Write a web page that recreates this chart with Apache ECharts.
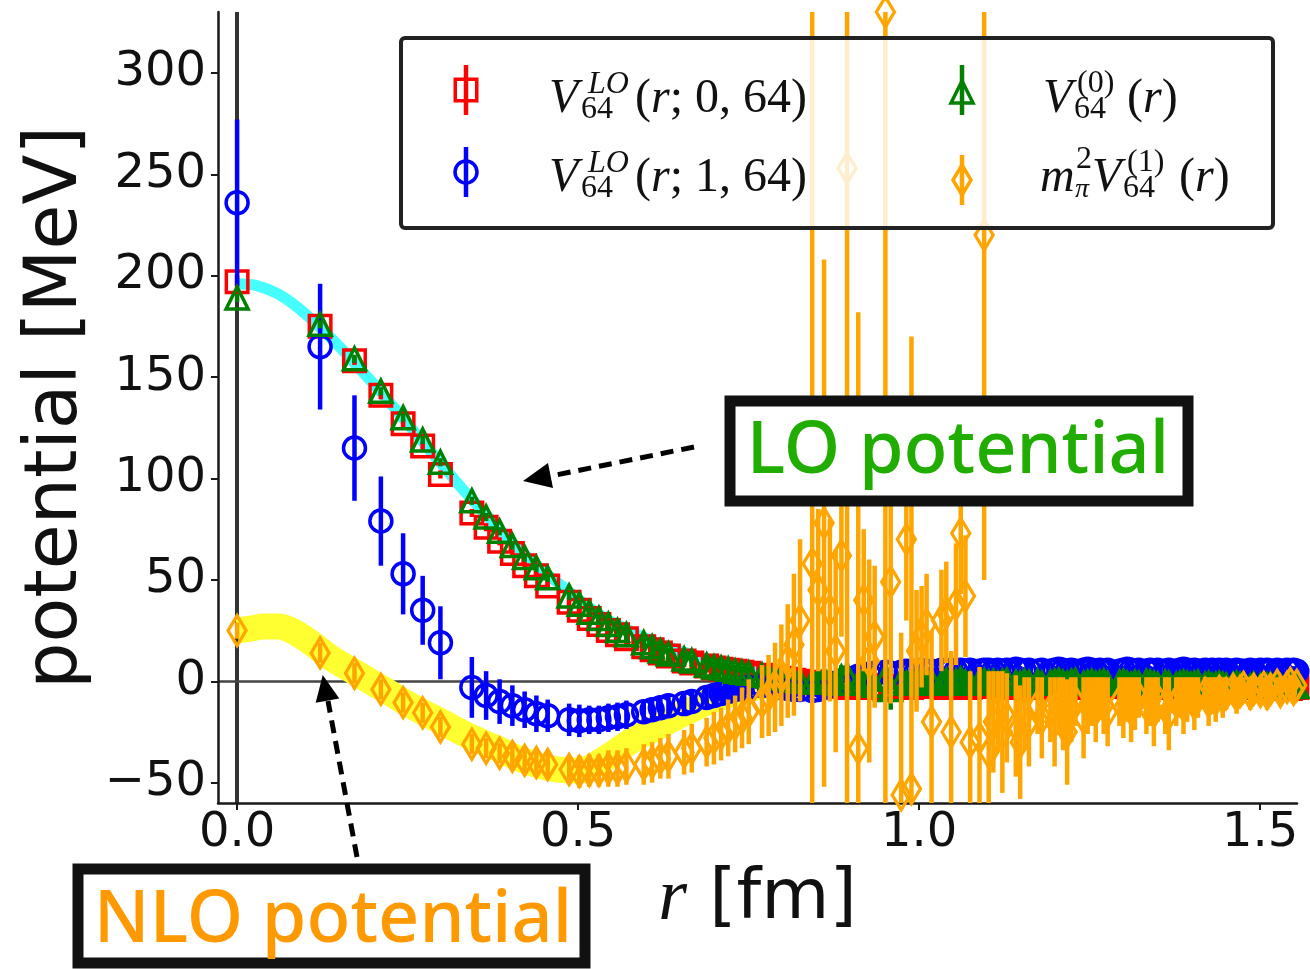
<!DOCTYPE html>
<html>
<head>
<meta charset="utf-8">
<script src="https://cdn.jsdelivr.net/npm/echarts@6/dist/echarts.min.js"></script>
<style>
html, body { margin: 0; padding: 0; background: #fff; }
#chart { width: 1310px; height: 969px; }
</style>
</head>
<body>
<div id="chart"></div>
<script>
// Separations r [fm] on the 64^4 lattice
const rFm = [
  0, 0.1217, 0.1721, 0.2108, 0.2434, 0.2721, 0.2981, 0.3442, 0.3651, 0.3849,
  0.4036, 0.4216, 0.4388, 0.4554, 0.4868, 0.5018, 0.5163, 0.5305, 0.5443, 0.5577,
  0.5708, 0.5962, 0.6085, 0.6206, 0.6324, 0.6554, 0.6666, 0.6884, 0.6991, 0.7096,
  0.7200, 0.7302, 0.7403, 0.7502, 0.7697, 0.7793, 0.7887, 0.7980, 0.8073, 0.8164,
  0.8254, 0.8432, 0.8519, 0.8606, 0.8691, 0.8776, 0.8860, 0.8943, 0.9107, 0.9188,
  0.9268, 0.9348, 0.9505, 0.9583, 0.9736, 0.9812, 0.9887, 0.9962, 1.0036, 1.0109,
  1.0182, 1.0327, 1.0398, 1.0469, 1.0540, 1.0610, 1.0679, 1.0748, 1.0885, 1.0953,
  1.1020, 1.1088, 1.1154, 1.1220, 1.1286, 1.1417, 1.1481, 1.1545, 1.1610, 1.1736,
  1.1799, 1.1924, 1.1986, 1.2048, 1.2109, 1.2170, 1.2231, 1.2291, 1.2411, 1.2471,
  1.2530, 1.2589, 1.2648, 1.2706, 1.2764, 1.2937, 1.2994, 1.3051, 1.3108, 1.3164,
  1.3220, 1.3332, 1.3387, 1.3442, 1.3497, 1.3607, 1.3661, 1.3769, 1.3823, 1.3876,
  1.3929, 1.3982, 1.4035, 1.4088, 1.4192, 1.4245, 1.4296, 1.4348, 1.4400, 1.4451,
  1.4502, 1.4604, 1.4654, 1.4705, 1.4755, 1.4855, 1.4905, 1.5004, 1.5053, 1.5102,
  1.5151, 1.5249, 1.5297, 1.5394, 1.5442, 1.5490, 1.5537
];

// V_64^LO(r; 0, 64) [MeV]
const vLO0 = [
  197, 175, 158, 141, 127, 116, 102, 83, 76, 69,
  63, 57, 52, 47, 39, 35, 31, 28, 25, 23,
  21, 17, 15.5, 14, 12.5, 10, 9, 7.5, 6.5, 6,
  5.5, 5, 4.5, 4, 3, 2.5, 2, 1.5, 1, 0.5,
  0, -0.5, -1, -1.5, -2, -2, -2.5, -3, -3, -2.5,
  -2, -3, -4, -3, -2.5, -2, -3, -2.5, -2, -1.5,
  -2, -2.5, -3, -2, -1.5, -2, -2.5, -3, -2, -1.5,
  -2, -2.5, -2, -3, -2.5, -2, -1.5, -2, -2.5, -2,
  -3, -2.5, -2, -1.5, -2, -2.5, -3, -2.5, -2, -1.5,
  -2, -2.5, -3, -2.5, -2, -2, -1.5, -2.5, -3, -2.5,
  -2, -1.5, -2, -2.5, -3, -2, -1.5, -2, -2.5, -3,
  -2.5, -2, -1.5, -2, -3, -2.5, -2, -1.5, -2, -3,
  -3.5, -2.5, -2, -2.5, -3, -2, -1.5, -2.5, -3, -3.5,
  -3, -2, -2.5, -3, -3.5, -2.5, -3
];
const eLO0 = [
  3, 2, 2, 2, 2, 2, 2, 2, 2, 2,
  2, 2, 2, 2, 2, 2, 2, 2, 2, 2,
  3, 3, 3, 3, 3, 3, 3, 3, 3, 3,
  3, 3, 3, 3, 3, 3, 3, 3, 3, 3,
  2, 2, 2, 2, 2, 3, 2, 3, 3, 2,
  3, 3, 3, 3, 2, 2, 3, 2, 2, 2,
  2, 3, 2, 2, 3, 2, 2, 3, 2, 2,
  2, 2, 3, 2, 2, 2, 3, 2, 2, 2,
  3, 2, 2, 2, 2, 3, 2, 2, 2, 2,
  2, 2, 3, 2, 2, 2, 2, 2, 3, 2,
  2, 2, 2, 3, 2, 2, 2, 2, 2, 3,
  2, 2, 2, 2, 3, 2, 2, 2, 2, 3,
  3, 2, 2, 2, 3, 2, 2, 2, 3, 3,
  3, 2, 2, 3, 3, 2, 3
];

// V_64^LO(r; 1, 64) [MeV]
const vLO1 = [
  236, 165, 115, 79, 53, 35, 19, -3, -7, -10,
  -12, -14, -16, -17, -19, -19.5, -19, -19, -18, -17.5,
  -16.5, -15, -14, -13, -12, -11, -10, -8, -7, -6,
  -5, -4, -3.5, -3, -2, -1.5, -2, -3, -3.5, -4,
  -4, -4.5, -4, -3, -2, -1, 0, 1.5, 2.5, 3,
  3.5, 4, 4.5, 4, 4.5, 5, 4.5, 5, 5.5, 5,
  5, 5.5, 5, 5.5, 5, 5.5, 5, 5.5, 5, 5.5,
  5.5, 5, 5.5, 5, 5.5, 6, 5.5, 5, 5.5, 5,
  5.5, 5, 5.5, 6, 5.5, 5, 5.5, 5, 5.5, 6,
  5.5, 5, 5.5, 5, 5.5, 5, 5.5, 6, 5.5, 5,
  5.5, 5, 5.5, 5, 5.5, 5, 5.5, 5, 5.5, 6,
  5.5, 5, 5.5, 5, 5.5, 5, 5.5, 5, 5.5, 5,
  5.5, 5, 5.5, 5, 5, 5.5, 5, 5.5, 5, 5.5,
  5, 5.5, 5, 5.5, 5, 5.5, 5
];
const eLO1 = [
  41, 31, 26, 22, 20, 17, 18, 15, 12, 11,
  10, 9, 9, 8, 8, 8, 7, 7, 7, 7,
  7, 6, 6, 6, 6, 5, 5, 5, 5, 4,
  4, 4, 4, 4, 3, 3, 3, 3, 3, 3,
  3, 3, 3, 3, 3, 3, 3, 3, 3, 3,
  3, 3, 3, 3, 3, 2, 3, 2, 2, 2,
  2, 2, 2, 2, 2, 2, 2, 2, 2, 2,
  2, 2, 2, 2, 2, 2, 2, 2, 2, 2,
  2, 2, 2, 2, 2, 2, 2, 2, 2, 2,
  2, 2, 2, 2, 2, 2, 2, 2, 2, 2,
  2, 2, 2, 2, 2, 2, 2, 2, 2, 2,
  2, 2, 2, 2, 2, 2, 2, 2, 2, 2,
  2, 2, 2, 2, 2, 2, 2, 2, 2, 2,
  2, 2, 2, 2, 2, 2, 2
];

// V_64^(0)(r) [MeV]
const vV0 = [
  189, 176, 159, 143, 130, 119, 108, 89, 81, 74,
  67, 61, 56, 51, 42, 38, 34, 31, 28, 25,
  23, 19, 17, 15, 13.5, 11, 10, 8, 7, 6.5,
  6, 5, 4.5, 4, 3, 2.5, 2, 1.5, 1, 0.5,
  0, -0.5, 0, 1, 0, -1, 2, 3, -1, 0,
  1, -2, 2, -4, 0, -1, 0, -1, 1, -0.5,
  0, -1, 0.5, -1, 0, 1, -0.5, -1, 0, 0.5,
  -0.5, 0, -1, 0, 0.5, -0.5, -1, 0, -0.5, 0,
  -1, -0.5, 0, 0.5, -0.5, -1, 0, 0.5, -1, -0.5,
  0, -1, -0.5, 0, -1, -0.5, 0, -1, -1.5, -0.5,
  -1, 0, -0.5, -1, -1.5, -0.5, -1, -1.5, -1, -0.5,
  -1, -1.5, -1, -0.5, -1.5, -1, -2, -1.5, -1, -1.5,
  -2, -1.5, -1, -1.5, -2, -2.5, -1.5, -2, -2.5, -2,
  -1.5, -2, -2.5, -2, -1.5, -2, -2.5
];
const eV0 = [
  2, 2, 2, 2, 2, 2, 2, 2, 2, 2,
  2, 2, 2, 2, 2, 2, 2, 2, 2, 2,
  3, 3, 3, 3, 3, 3, 3, 3, 3, 3,
  3, 3, 3, 3, 3, 3, 3, 3, 3, 3,
  3, 4, 5, 5, 6, 5, 6, 6, 7, 6,
  6, 8, 8, 10, 7, 6, 7, 6, 5, 6,
  5, 5, 4, 5, 4, 4, 5, 4, 4, 4,
  4, 4, 3, 4, 4, 3, 4, 4, 3, 4,
  4, 3, 4, 4, 3, 4, 4, 3, 4, 4,
  3, 4, 4, 3, 4, 3, 4, 4, 3, 4,
  4, 3, 4, 4, 3, 4, 4, 3, 4, 4,
  3, 4, 4, 3, 4, 3, 4, 4, 3, 4,
  4, 3, 4, 4, 3, 4, 4, 3, 4, 4,
  3, 4, 4, 3, 4, 4, 3
];

// m_pi^2 V_64^(1)(r) [MeV]
const vV1 = [
  25, 14, 4, -4, -10.5, -15.5, -22.5, -31, -33, -35.5,
  -37, -39, -40, -41, -43.5, -44.5, -44, -44, -43, -43,
  -42, -41, -40, -38, -37, -35, -33, -30, -28, -26,
  -23, -21, -18, -15, -10, -7, -3, 3, 10, 18,
  30, 58, 45, 78, 35, 15, 62, 253, -33, 40,
  10, 22, 330, 49, -56, 70, -53, 15, 22, 28,
  -20, 30, 34, -25, 38, 73, 42, -30, -28, 220,
  -35, -20, -15, -25, -18, -22, -30, -16, -20, -12,
  -18, -14, -20, -12, -16, -25, -14, -10, -18, -12,
  -10, -14, -8, -12, -15, -10, -13, -9, -14, -11,
  -8, -12, -10, -15, -9, -12, -16, -10, -8, -12,
  -9, -7, -11, -8, -6, -10, -7, -9, -5, -8,
  -6, -4, -7, -5, -3, -6, -4, -5, -3, -6,
  -4, -2, -5, -3, -1, -4, -2
];
const eV1 = [
  4, 5, 5, 5, 5, 5, 5, 5, 5, 5,
  6, 6, 6, 7, 7, 8, 8, 8, 9, 9,
  9, 10, 10, 10, 11, 11, 12, 12, 13, 13,
  14, 14, 15, 16, 18, 20, 22, 25, 28, 35,
  40, 300, 40, 130, 45, 50, 40, 400, 215, 35,
  50, 35, 400, 60, 80, 40, 223, 30, 25, 25,
  45, 25, 25, 40, 30, 30, 30, 35, 35, 170,
  40, 25, 20, 30, 22, 25, 28, 18, 22, 14,
  20, 16, 22, 14, 18, 26, 16, 12, 20, 14,
  12, 16, 10, 14, 17, 12, 15, 11, 16, 13,
  10, 14, 12, 17, 11, 14, 18, 12, 10, 14,
  11, 9, 13, 10, 8, 12, 9, 11, 7, 10,
  8, 6, 9, 7, 5, 8, 6, 7, 5, 8,
  6, 4, 7, 5, 4, 6, 5
];

// Fitted curves
const fitLOr = [0, 0.03, 0.06, 0.09, 0.12, 0.15, 0.18, 0.21, 0.24, 0.27, 0.30, 0.33, 0.36, 0.39, 0.42, 0.45, 0.48, 0.51, 0.54, 0.57, 0.60, 0.65, 0.70, 0.75, 0.80, 0.85];
const fitLOv = [196, 195, 191, 184, 175, 165, 154, 143, 131, 119, 107, 95, 84, 73, 63, 54, 46, 38, 31, 26, 21, 15, 10, 6, 3, 2];
const fitNLOr = [0, 0.02, 0.04, 0.06, 0.08, 0.10, 0.12, 0.14, 0.16, 0.18, 0.20, 0.22, 0.26, 0.30, 0.34, 0.38, 0.42, 0.46, 0.50, 0.54, 0.58, 0.62, 0.66, 0.70, 0.75, 0.80];
const fitNLOv = [25, 26, 27, 27, 25, 21, 16, 11, 7, 3, -1, -5, -13, -20, -27, -33, -39, -43, -44, -38, -29, -22, -15, -9, -4, -1];

// Axes
const xMin = -0.028, xMax = 1.554;
const yMin = -60, yMax = 330;
const xTicks = [0, 0.5, 1.0, 1.5];
const yTicks = [-50, 0, 50, 100, 150, 200, 250, 300];

const RED = '#ff0000', BLUE = '#0000ff', GREEN = '#008000', ORANGE = '#ffa500';

function triples(v, e) { return rFm.map((r, i) => [r, v[i], e[i]]); }
function pairs(xs, ys) { return xs.map((x, i) => [x, ys[i]]); }

function errorBars(name, color, v, e, z) {
  return {
    type: 'custom', name: name + ' err', data: triples(v, e), clip: true, silent: true, z,
    encode: { x: 0, y: 1 },
    renderItem(params, api) {
      const x = api.value(0), y = api.value(1), d = api.value(2);
      const p1 = api.coord([x, y - d]), p2 = api.coord([x, y + d]);
      return { type: 'line', shape: { x1: p1[0], y1: p1[1], x2: p2[0], y2: p2[1] },
               style: { stroke: color, lineWidth: 4.5 } };
    }
  };
}
function markers(name, color, v, symbol, size, z) {
  return {
    type: 'scatter', name, data: rFm.map((r, i) => [r, v[i]]), clip: true, silent: true, z,
    symbol, symbolSize: size,
    itemStyle: { color: 'rgba(255,255,255,0)', borderColor: color, borderWidth: 3.5, opacity: 1 },
    emphasis: { disabled: true }
  };
}

const chart = echarts.init(document.getElementById('chart'), null, { renderer: 'canvas' });

const axisColor = '#1a1a1a';
const option = {
  animation: false,
  backgroundColor: '#fff',
  grid: { left: 218, right: 13, top: 12, bottom: 166, containLabel: false },
  xAxis: {
    type: 'value', min: xMin, max: xMax,
    axisLine: { show: true, onZero: false, lineStyle: { color: axisColor, width: 2.5 } },
    axisTick: { show: true, customValues: xTicks, length: 7, lineStyle: { color: axisColor, width: 2 } },
    axisLabel: { customValues: xTicks, formatter: v => v.toFixed(1), fontSize: 48,
                 fontFamily: 'DejaVu Sans', color: '#111', margin: 7 },
    splitLine: { show: false },
    name: '{i|r} [fm]', nameLocation: 'middle', nameGap: 58,
    nameTextStyle: { fontSize: 70, fontFamily: 'DejaVu Sans', color: '#111',
      rich: { i: { fontSize: 74, fontFamily: 'Liberation Serif', fontStyle: 'italic', color: '#111' } } }
  },
  yAxis: {
    type: 'value', min: yMin, max: yMax,
    axisLine: { show: true, onZero: false, lineStyle: { color: axisColor, width: 2.5 } },
    axisTick: { show: true, customValues: yTicks, length: 7, lineStyle: { color: axisColor, width: 2 } },
    axisLabel: { customValues: yTicks, formatter: v => (v < 0 ? '\u2212' + Math.abs(v) : String(v)),
                 fontSize: 48, fontFamily: 'DejaVu Sans', color: '#111', margin: 12 },
    splitLine: { show: false },
    name: 'potential [MeV]', nameLocation: 'middle', nameGap: 118,
    nameTextStyle: { fontSize: 73, fontFamily: 'DejaVu Sans', color: '#111' }
  },
  series: [
    {
      type: 'line', name: 'LO fit', data: pairs(fitLOr, fitLOv), smooth: 0.4, showSymbol: false,
      symbol: 'none', clip: true, silent: true, z: 1,
      lineStyle: { color: 'rgb(70,255,255)', width: 11 },
      markLine: {
        silent: true, symbol: 'none', z: 0, label: { show: false },
        data: [
          { xAxis: 0, lineStyle: { color: '#333', width: 4, type: 'solid' } },
          { yAxis: 0, lineStyle: { color: '#444', width: 2.5, type: 'solid' } }
        ]
      }
    },
    {
      type: 'line', name: 'NLO fit', data: pairs(fitNLOr, fitNLOv), smooth: 0.4, showSymbol: false,
      symbol: 'none', clip: true, silent: true, z: 1,
      lineStyle: { color: 'rgb(255,255,50)', width: 26 }
    },
    errorBars('V64LO(r;0,64)', RED, vLO0, eLO0, 3),
    markers('V64LO(r;0,64)', RED, vLO0, 'rect', 21.5, 4),
    errorBars('V64LO(r;1,64)', BLUE, vLO1, eLO1, 5),
    markers('V64LO(r;1,64)', BLUE, vLO1, 'circle', 22, 6),
    errorBars('V64(0)(r)', GREEN, vV0, eV0, 7),
    markers('V64(0)(r)', GREEN, vV0, 'triangle', 22, 8),
    errorBars('mpi2 V64(1)(r)', ORANGE, vV1, eV1, 9),
    markers('mpi2 V64(1)(r)', ORANGE, vV1, 'diamond', [18, 30], 10)
  ]
};
chart.setOption(option);

// ---- legend (math labels) ----
const serif = 'Liberation Serif';
function t(x, y, text, size, italic) {
  return {
    type: 'text', z: 101,
    style: { x, y, text, fill: '#111', font: (italic ? 'italic ' : '') + size + 'px "' + serif + '"',
             align: 'left', verticalAlign: 'middle' }
  };
}
function richLabel(x, y, parts) {
  return {
    type: 'text', z: 101,
    style: {
      x, y, text: parts, align: 'left', verticalAlign: 'middle', fill: '#111',
      font: '48px "' + serif + '"',
      rich: {
        it: { fontFamily: serif, fontStyle: 'italic', fontSize: 48, fill: '#111' },
        rm: { fontFamily: serif, fontSize: 48, fill: '#111' }
      }
    }
  };
}
const M = 48, S = 32;
const row1 = 99, row2 = 178;
const colA = 549, colB = 1043;
const legendEls = [
  { type: 'rect', z: 100, shape: { x: 401, y: 38, width: 872, height: 190, r: 4 },
    style: { fill: 'rgba(255,255,255,0.8)', stroke: '#222', lineWidth: 4 } },
  // red key
  { type: 'line', z: 101, shape: { x1: 466, y1: 65, x2: 466, y2: 115 }, style: { stroke: RED, lineWidth: 4.5 } },
  { type: 'rect', z: 101, shape: { x: 455.25, y: 79.25, width: 21.5, height: 21.5 }, style: { fill: 'none', stroke: RED, lineWidth: 3.5 } },
  // blue key
  { type: 'line', z: 101, shape: { x1: 466, y1: 147, x2: 466, y2: 197 }, style: { stroke: BLUE, lineWidth: 4.5 } },
  { type: 'circle', z: 101, shape: { cx: 466, cy: 172, r: 11 }, style: { fill: 'none', stroke: BLUE, lineWidth: 3.5 } },
  // green key
  { type: 'line', z: 101, shape: { x1: 962, y1: 65, x2: 962, y2: 115 }, style: { stroke: GREEN, lineWidth: 4.5 } },
  { type: 'polygon', z: 101, shape: { points: [[962, 81], [951, 103], [973, 103]] }, style: { fill: 'none', stroke: GREEN, lineWidth: 3.5 } },
  // orange key
  { type: 'line', z: 101, shape: { x1: 962, y1: 155, x2: 962, y2: 205 }, style: { stroke: ORANGE, lineWidth: 4.5 } },
  { type: 'polygon', z: 101, shape: { points: [[962, 165], [971, 180], [962, 195], [953, 180]] }, style: { fill: 'none', stroke: ORANGE, lineWidth: 3.5 } },

  // V_64^LO(r; 0, 64)
  t(colA, row1, 'V', M, true),
  t(colA + 39, row1 - 14, 'LO', S, true),
  t(colA + 32, row1 + 11, '64', S, false),
  richLabel(colA + 86, row1, '{rm|(}{it|r}{rm|; 0, 64)}'),
  // V_64^LO(r; 1, 64)
  t(colA, row2, 'V', M, true),
  t(colA + 39, row2 - 14, 'LO', S, true),
  t(colA + 32, row2 + 11, '64', S, false),
  richLabel(colA + 86, row2, '{rm|(}{it|r}{rm|; 1, 64)}'),
  // V_64^(0)(r)
  t(colB, row1, 'V', M, true),
  t(colB + 34, row1 - 15, '(0)', S, false),
  t(colB + 31, row1 + 11, '64', S, false),
  richLabel(colB + 84, row1, '{rm|(}{it|r}{rm|)}'),
  // m_pi^2 V_64^(1)(r)
  t(colB - 3, row2, 'm', M, true),
  t(colB + 33, row2 - 18, '2', S, false),
  t(colB + 32, row2 + 12, '\u03c0', S - 4, true),
  t(colB + 49, row2, 'V', M, true),
  t(colB + 84, row2 - 15, '(1)', S, false),
  t(colB + 80, row2 + 11, '64', S, false),
  richLabel(colB + 136, row2, '{rm|(}{it|r}{rm|)}')
];

// ---- callouts ----
const calloutFont = '"Noto Sans", "Open Sans", sans-serif';
const callouts = [
  // LO
  { type: 'line', z: 90, shape: { x1: 694, y1: 447, x2: 551, y2: 476 },
    style: { stroke: '#000', lineWidth: 5, lineDash: [13, 8] } },
  { type: 'polygon', z: 90, shape: { points: [[523, 481], [553, 488], [548, 463]] }, style: { fill: '#000' } },
  { type: 'rect', z: 90, shape: { x: 730, y: 401, width: 458, height: 100 },
    style: { fill: '#fff', stroke: '#111', lineWidth: 11 } },
  { type: 'text', z: 91, style: { x: 958, y: 452, text: 'LO potential', fill: '#20ad00',
    font: '500 72px ' + calloutFont, align: 'center', verticalAlign: 'middle' } },
  // NLO
  { type: 'line', z: 90, shape: { x1: 357, y1: 857, x2: 328, y2: 701 },
    style: { stroke: '#000', lineWidth: 5, lineDash: [13, 8] } },
  { type: 'polygon', z: 90, shape: { points: [[322.7, 675], [339.3, 698.4], [315.7, 702.8]] }, style: { fill: '#000' } },
  { type: 'rect', z: 90, shape: { x: 78, y: 869, width: 507, height: 94 },
    style: { fill: '#fff', stroke: '#111', lineWidth: 11 } },
  { type: 'text', z: 91, style: { x: 333, y: 921, text: 'NLO potential', fill: '#ff9900',
    font: '500 72px ' + calloutFont, align: 'center', verticalAlign: 'middle' } }
];

chart.setOption({ graphic: { elements: legendEls.concat(callouts) } });
</script>
</body>
</html>
